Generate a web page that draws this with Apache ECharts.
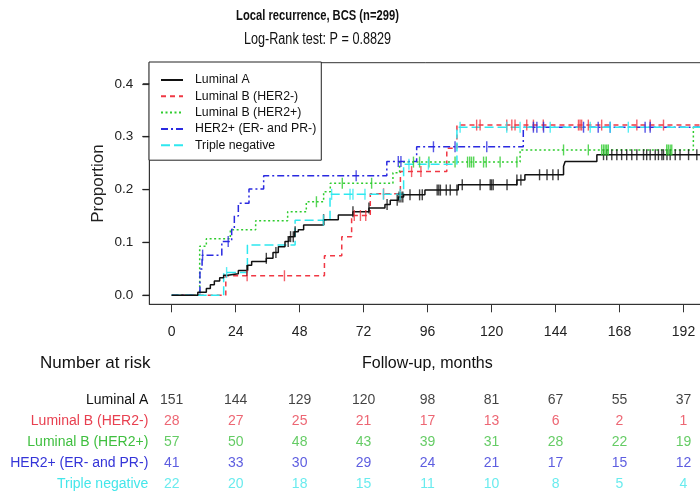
<!DOCTYPE html>
<html><head><meta charset="utf-8">
<script src="https://cdn.jsdelivr.net/npm/echarts@6/dist/echarts.min.js"></script>
<style>html,body{margin:0;padding:0;background:#fff}#c{width:700px;height:494px}</style>
</head><body><div id="c"></div>
<script>
// ---------- data ----------
const groupNames = ['Luminal A', 'Luminal B (HER2-)', 'Luminal B (HER2+)', 'HER2+ (ER- and PR-)', 'Triple negative'];
const xTicks = [0, 24, 48, 72, 96, 120, 144, 168, 192, 216];
const yTicks = [0, 0.1, 0.2, 0.3, 0.4];
const xMin = -8.4, xMax = 217.7, yMin = -0.017, yMax = 0.44;
// cumulative proportion steps [month, value after event]
const lumA = [[0,0],[9.8,0.006],[13,0.013],[14.5,0.020],[16,0.027],[18,0.033],[19.5,0.038],[21,0.041],[25,0.047],[28.5,0.057],[30,0.064],[35.5,0.070],[38,0.081],[40,0.092],[42.5,0.102],[44,0.111],[46,0.120],[47.5,0.124],[49.5,0.133],[57,0.143],[62.5,0.152],[68,0.158],[74,0.165],[80,0.172],[82,0.180],[85,0.186],[87,0.190],[95,0.199],[107.5,0.209],[129.5,0.218],[132.5,0.228],[147,0.244],[147.6,0.253],[159.5,0.266],[205,0.266]];
const lumBneg = [[0,0],[20.3,0.037],[57.3,0.075],[63.8,0.111],[67.5,0.151],[74.5,0.192],[85.8,0.234],[103.2,0.278],[107,0.322],[205,0.322]];
const lumBpos = [[0,0],[10.5,0.093],[13,0.107],[22,0.124],[31.5,0.141],[43.5,0.158],[50.5,0.177],[57,0.196],[59.5,0.212],[83,0.232],[85.5,0.252],[130.7,0.275],[195.7,0.318],[205,0.318]];
const her2 = [[0,0],[10.6,0.050],[11.4,0.076],[18.8,0.102],[22.5,0.125],[23.5,0.150],[25,0.174],[29,0.201],[34.5,0.226],[80.7,0.253],[91.9,0.281],[131.9,0.318],[205,0.318]];
const tripleNeg = [[0,0],[19.5,0.043],[28.4,0.095],[46.3,0.142],[59.4,0.191],[87,0.248],[107,0.318],[205,0.318]];
// censoring times (months)
const lumAcens = [28.2,35.5,39.1,43.7,44.6,45.6,46.3,57,68,74,80.8,84.6,85.3,86,86.7,89.4,93,94,99.6,100.2,100.8,103,104.5,107,109,115.7,119.5,120,120.6,125.8,129.5,131,138,140.8,143,145,162,163.2,165.1,167,168.8,170.7,172.6,174.5,177,178.2,179.5,181.4,182.6,183.9,184.5,185.8,187,188.9,190.7,193.9,197];
const lumBnegCens = [28.3,42.3,68.5,70.8,72.8,79.5,90,93.5,114.4,115.7,125.7,127.6,128.8,133.2,135.7,139.4,152.6,153.2,153.8,156.3,161.3,174.5,179.5,184.5];
const lumBposCens = [54.3,64,75,90.7,93,96.5,106.3,111,111.8,112.5,113.3,117,118,123.2,129.5,147,156.3,161.3,162,162.6,163.2,163.8,185.7,186.3,187,187.6];
const her2Cens = [11.6,21.2,69.2,85,86,98.2,106.3,118.2,135.7,137,139.5,154.5,160,164.5,177.6,179.5];
const tripleNegCens = [20.6,56.9,60,66.9,68,72.5,79.4,85.7,89,96.3,108.2,125.7,130.7,142,157,164.5,171.3];
// number at risk
const riskTimes = [0, 24, 48, 72, 96, 120, 144, 168, 192];
const riskLumA = [151, 144, 129, 120, 98, 81, 67, 55, 37];
const riskLumBneg = [28, 27, 25, 21, 17, 13, 6, 2, 1];
const riskLumBpos = [57, 50, 48, 43, 39, 31, 28, 22, 19];
const riskHer2 = [41, 33, 30, 29, 24, 21, 17, 15, 12];
const riskTripleNeg = [22, 20, 18, 15, 11, 10, 8, 5, 4];

// ---------- styles ----------
const lineColors = ['#111111', '#f03844', '#2ecc2e', '#2a2ae0', '#2ee8f0'];
const textColors = ['#111111', '#e84050', '#3fbf3f', '#3434d8', '#44e6ea'];
const lineTypes = ['solid', [5, 4], [2, 2.5], [7, 3, 2, 3], [9, 4]];
const REG = "'Liberation Sans', Arial, sans-serif";

const curves = [lumA, lumBneg, lumBpos, her2, tripleNeg];
const cens = [lumAcens, lumBnegCens, lumBposCens, her2Cens, tripleNegCens];
const risks = [riskLumA, riskLumBneg, riskLumBpos, riskHer2, riskTripleNeg];

function valueAt(curve, t) {
  let v = 0;
  for (const p of curve) { if (p[0] <= t) v = p[1]; else break; }
  return v;
}

const series = [];
curves.forEach((c, i) => {
  series.push({
    name: groupNames[i], type: 'line', step: 'end', data: c,
    xAxisIndex: 0, yAxisIndex: 0, symbol: 'circle', showSymbol: false, z: 3 + (i === 0 ? 1 : 0),
    lineStyle: { color: lineColors[i], width: 1.5, type: lineTypes[i] },
    itemStyle: { color: lineColors[i] }
  });
});
cens.forEach((c, i) => {
  series.push({
    name: groupNames[i] + ' censored', type: 'scatter', xAxisIndex: 0, yAxisIndex: 0,
    data: c.map(t => [t, valueAt(curves[i], t)]),
    symbol: 'rect', symbolSize: [1.4, 11], z: 4,
    itemStyle: { color: lineColors[i] }, silent: true
  });
});
// y-axis tick marks on the left edge of the frame, placed through the y scale
series.push({
  name: 'y ticks', type: 'custom', xAxisIndex: 0, yAxisIndex: 0, clip: false, silent: true, z: 20,
  data: yTicks.map(v => [xMin, v]),
  renderItem: (params, api) => {
    const p = api.coord([api.value(0), api.value(1)]);
    return { type: 'rect', z2: 100,
      shape: { x: p[0] - 6.5, y: p[1] - 0.6, width: 6.5, height: 1.2 },
      style: { fill: '#222' } };
  }
});
risks.forEach((r, i) => {
  series.push({
    name: groupNames[i] + ' at risk', type: 'scatter', xAxisIndex: 1, yAxisIndex: 1,
    data: riskTimes.map((t, k) => [t, groupNames[i], r[k]]),
    symbolSize: 1, itemStyle: { color: 'transparent' }, silent: true,
    label: { show: true, position: 'inside', formatter: p => String(p.value[2]),
      color: textColors[i], fontSize: 14, fontFamily: REG }
  });
});

const chart = echarts.init(document.getElementById('c'), null, { renderer: 'canvas' });
chart.setOption({
  animation: false,
  backgroundColor: '#ffffff',
  graphic: [
    { type: 'text', x: 317.5, y: 16, scaleX: 0.8, style: { text: 'Local recurrence, BCS (n=299)', x: 0, y: 0, align: 'center', verticalAlign: 'middle', font: "bold 14px " + REG, fill: '#111' } },
    { type: 'text', x: 317.5, y: 40, scaleX: 0.79, style: { text: 'Log-Rank test: P = 0.8829', x: 0, y: 0, align: 'center', verticalAlign: 'middle', font: "16px " + REG, fill: '#111' } },
    { type: 'text', style: { text: 'Number at risk', x: 40, y: 363, align: 'left', verticalAlign: 'middle', font: "17px " + REG, fill: '#111' } },
    { type: 'text', style: { text: 'Follow-up, months', x: 362, y: 364, align: 'left', verticalAlign: 'middle', font: "16px " + REG, fill: '#111' } }
  ],
  legend: {
    data: groupNames, orient: 'vertical', left: 149, top: 62,
    padding: [12, 5, 9, 11], itemGap: 4.3, itemWidth: 22, itemHeight: 12,
    borderColor: '#222', borderWidth: 1, backgroundColor: '#fff',
    itemStyle: { opacity: 0 },
    textStyle: { fontSize: 12.3, fontFamily: REG, color: '#111', padding: [0, 0, 0, 7] },
    selectedMode: false
  },
  grid: [
    { left: 149.3, top: 62.7, width: 602.7, height: 241.6, show: true, borderColor: '#333', borderWidth: 1, backgroundColor: 'transparent', containLabel: false, outerBoundsMode: 'none' },
    { left: 149.3, top: 389.5, width: 602.7, height: 105, show: false, containLabel: false, outerBoundsMode: 'none' },
    // same pixel mapping as grid 0 for y in [0, 0.4]: carries the y labels
    { left: 149.3, top: 83.8, width: 602.7, height: 211.5, show: false, containLabel: false, outerBoundsMode: 'none' }
  ],
  xAxis: [
    { type: 'value', gridIndex: 0, min: xMin, max: xMax,
      axisLine: { show: true, onZero: false, lineStyle: { color: '#333', width: 1 } }, splitLine: { show: false },
      axisTick: { show: true, length: 8, customValues: xTicks, lineStyle: { color: '#333', width: 1 } },
      axisLabel: { show: true, customValues: xTicks, margin: 21, fontSize: 14, fontFamily: REG, color: '#222' } },
    { type: 'value', gridIndex: 1, min: xMin, max: xMax, show: false },
    { type: 'value', gridIndex: 2, min: xMin, max: xMax, show: false }
  ],
  yAxis: [
    { type: 'value', gridIndex: 0, min: yMin, max: yMax,
      name: 'Proportion', nameLocation: 'middle', nameRotate: 90, nameGap: 42, nameMoveOverlap: false,
      nameTextStyle: { fontSize: 17, fontFamily: REG, color: '#222' },
      axisLine: { show: true, onZero: false, lineStyle: { color: '#333', width: 1 } }, splitLine: { show: false },
      axisTick: { show: false }, axisLabel: { show: false } },
    { type: 'category', gridIndex: 1, data: groupNames, inverse: true,
      axisLine: { show: false }, axisTick: { show: false }, splitLine: { show: false },
      axisLabel: { margin: 1, fontSize: 14, fontFamily: REG, align: 'right',
        color: (v, idx) => textColors[groupNames.indexOf(v)] } },
    { type: 'value', gridIndex: 2, min: yTicks[0], max: yTicks[yTicks.length - 1], interval: 0.1,
      axisLine: { show: false, onZero: false }, splitLine: { show: false },
      axisTick: { show: true, inside: false, length: 7, lineStyle: { color: '#333', width: 1.2 } },
      axisLabel: { show: true, margin: 16, fontSize: 13.5, fontFamily: REG, color: '#222', formatter: v => v.toFixed(1) } }
  ],
  series: series
});
</script></body></html>
